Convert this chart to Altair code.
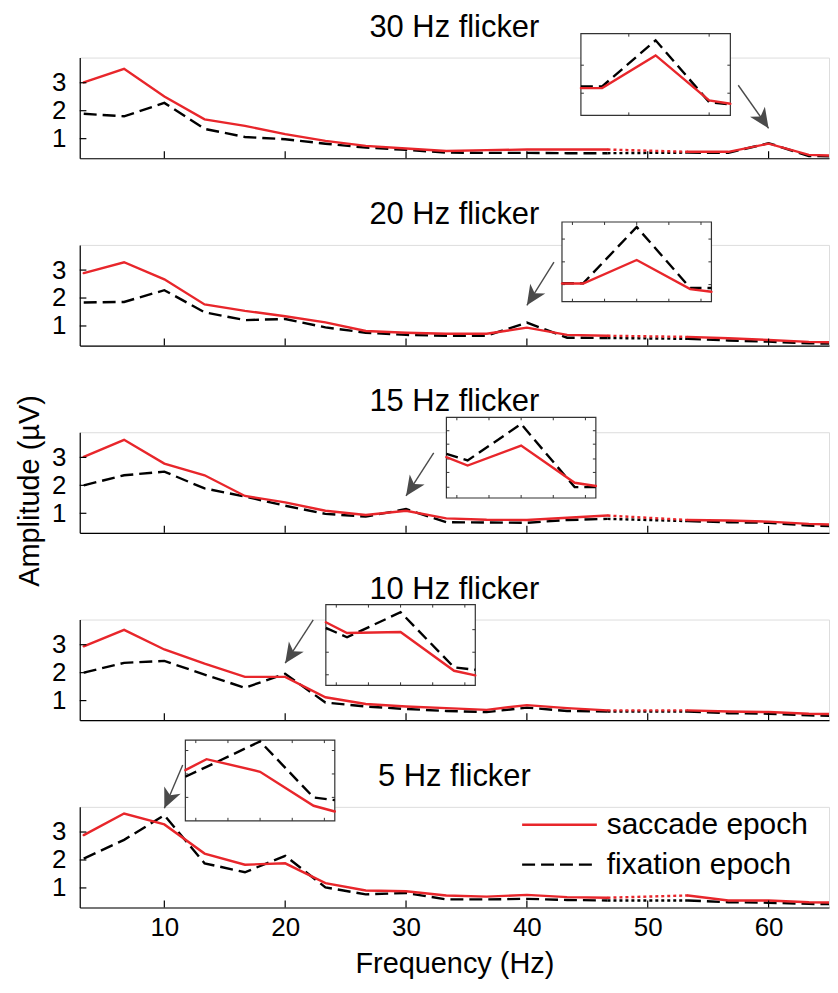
import altair as alt
import pandas as pd

# ---------------- data ----------------
freq = [3.33, 6.67, 10.0, 13.33, 16.67, 20.0, 23.33, 26.67, 30.0, 33.33,
        36.67, 40.0, 43.33, 46.67, 53.33, 56.67, 60.0, 63.33, 66.67]

panel_titles = ["30 Hz flicker", "20 Hz flicker", "15 Hz flicker",
                "10 Hz flicker", "5 Hz flicker"]
legend_labels = ["saccade epoch", "fixation epoch"]

saccade_30 = [3.01, 3.50, 2.51, 1.69, 1.46, 1.16, 0.92, 0.74, 0.65, 0.56,
              0.59, 0.61, 0.61, 0.61, 0.53, 0.53, 0.82, 0.42, 0.37]
fixation_30 = [1.89, 1.80, 2.28, 1.35, 1.06, 0.98, 0.82, 0.68, 0.60, 0.50,
               0.49, 0.49, 0.48, 0.48, 0.50, 0.49, 0.84, 0.38, 0.35]

saccade_20 = [2.89, 3.28, 2.67, 1.77, 1.54, 1.35, 1.13, 0.82, 0.76, 0.72,
              0.72, 0.94, 0.68, 0.65, 0.61, 0.56, 0.50, 0.43, 0.41]
fixation_20 = [1.84, 1.86, 2.28, 1.49, 1.21, 1.25, 0.95, 0.76, 0.68, 0.65,
               0.65, 1.12, 0.58, 0.57, 0.54, 0.48, 0.44, 0.38, 0.36]

saccade_15 = [3.02, 3.63, 2.78, 2.36, 1.62, 1.39, 1.09, 0.94, 1.09, 0.82,
              0.77, 0.76, 0.84, 0.92, 0.76, 0.74, 0.70, 0.62, 0.58]
fixation_15 = [2.00, 2.36, 2.49, 1.89, 1.60, 1.27, 0.98, 0.88, 1.15, 0.68,
               0.67, 0.66, 0.76, 0.80, 0.72, 0.68, 0.66, 0.56, 0.53]

saccade_10 = [2.94, 3.53, 2.83, 2.32, 1.85, 1.85, 1.12, 0.88, 0.79, 0.73,
              0.67, 0.84, 0.73, 0.65, 0.65, 0.61, 0.59, 0.53, 0.51]
fixation_10 = [2.00, 2.35, 2.42, 1.93, 1.46, 1.96, 0.93, 0.79, 0.70, 0.63,
               0.59, 0.75, 0.63, 0.61, 0.61, 0.55, 0.53, 0.47, 0.45]

saccade_5 = [2.89, 3.66, 3.27, 2.23, 1.83, 1.88, 1.17, 0.91, 0.88, 0.73,
             0.69, 0.75, 0.67, 0.65, 0.73, 0.55, 0.55, 0.49, 0.47]
fixation_5 = [2.05, 2.72, 3.60, 1.88, 1.56, 2.15, 1.02, 0.77, 0.82, 0.59,
              0.59, 0.61, 0.57, 0.55, 0.55, 0.49, 0.47, 0.43, 0.41]

# insets (zoomed views around the marked peak)
inset_freq_30 = [55.35, 56.67, 60.0, 63.33, 64.65]
inset_saccade_30 = [0.534, 0.534, 0.814, 0.428, 0.400]
inset_fixation_30 = [0.548, 0.548, 0.943, 0.414, 0.394]

inset_freq_20 = [35.35, 36.67, 40.0, 43.33, 44.65]
inset_saccade_20 = [0.710, 0.710, 0.916, 0.661, 0.637]
inset_fixation_20 = [0.712, 0.712, 1.206, 0.670, 0.670]

inset_freq_15 = [25.35, 26.67, 30.0, 33.33, 34.65]
inset_saccade_15 = [0.904, 0.841, 0.990, 0.713, 0.689]
inset_fixation_15 = [0.928, 0.879, 1.150, 0.681, 0.681]

inset_freq_10 = [15.35, 16.67, 20.0, 23.33, 24.65]
inset_saccade_10 = [2.198, 1.984, 2.004, 1.230, 1.138]
inset_fixation_10 = [2.084, 1.898, 2.398, 1.298, 1.250]

inset_freq_5 = [5.35, 6.67, 10.0, 13.33, 14.65]
inset_saccade_5 = [2.717, 3.055, 2.667, 1.622, 1.446]
inset_fixation_5 = [2.514, 2.818, 3.600, 1.877, 1.794]

inset_xdomain = [[55.35, 64.65], [35.35, 44.65], [25.35, 34.65], [15.35, 24.65], [5.35, 14.65]]
inset_ydomain = [[0.30, 1.00], [0.55, 1.25], [0.60, 1.20], [0.94, 2.55], [1.16, 3.64]]
inset_xticks = [[58.33, 63.33], [36, 38, 40, 42, 44], [26, 28, 30, 32, 34],
                [16, 18, 20, 22, 24], [6, 8, 10, 12, 14]]
inset_yticks = [[0.49, 0.73], [0.7, 0.9, 1.1], [0.68, 0.79, 0.89, 1.0, 1.1],
                [1.15, 1.6, 2.05], [1.88, 2.6, 3.32]]

x_ticks = [10, 20, 30, 40, 50, 60]
y_ticks = [1, 2, 3]

# arrows (tail and tip, in frequency / amplitude units of each panel)
arrow_tail_freq = [57.49, 42.24, 32.29, 22.32, 11.52]
arrow_tail_amp = [2.91, 3.28, 3.16, 3.89, 5.40]
arrow_tip_freq = [60.0, 40.0, 30.0, 20.0, 10.0]
arrow_tip_amp = [1.37, 1.74, 1.62, 2.34, 3.85]

# ---------------- style / layout ----------------
W, H = 752, 101
X_DOMAIN = [3, 65]
Y_DOMAIN = [0.3, 3.9]
RED = "#e8262b"
BLACK = "#000000"
GRAY = "#4a4a4a"
FONT = "Liberation Sans"
DASH = [13, 6]
DOT = [3, 3]
LW = 2.4
# inset placement in plot pixels: x0, x1, y_bottom, y_top
INSET_PX = [(503, 653, 58, -24), (484, 634, 57, -23), (368, 518, 66, -15),
            (247, 397, 66, -15), (106, 256, 14, -67)]
ARROW_ANGLE = [326, 33, 34, 34, 24]
ARROW_PATH = "M0,0L-0.45,-1L0,-0.72L0.45,-1Z"

saccades = [saccade_30, saccade_20, saccade_15, saccade_10, saccade_5]
fixations = [fixation_30, fixation_20, fixation_15, fixation_10, fixation_5]
inset_freqs = [inset_freq_30, inset_freq_20, inset_freq_15, inset_freq_10, inset_freq_5]
inset_sacs = [inset_saccade_30, inset_saccade_20, inset_saccade_15, inset_saccade_10, inset_saccade_5]
inset_fixs = [inset_fixation_30, inset_fixation_20, inset_fixation_15, inset_fixation_10, inset_fixation_5]


def xenc(i, field="freq"):
    last = i == 4
    ax = alt.Axis(values=x_ticks, labels=last, ticks=False, tickSize=0, grid=False,
                  domainColor=BLACK, domainWidth=1.2, labelFont=FONT, labelFontSize=26,
                  labelColor=BLACK, labelPadding=7,
                  title="Frequency (Hz)" if last else "", titleFont=FONT,
                  titleFontSize=29, titleFontWeight="normal", titleColor=BLACK,
                  titlePadding=9)
    return alt.X(f"{field}:Q", scale=alt.Scale(domain=X_DOMAIN, nice=False, zero=False), axis=ax)


def yenc(i, field="value"):
    mid = i == 2
    ax = alt.Axis(values=y_ticks, ticks=False, tickSize=0, grid=False, domainColor=BLACK,
                  domainWidth=1.2, labelFont=FONT, labelFontSize=26, labelColor=BLACK,
                  labelPadding=14, title="Amplitude (µV)" if mid else "",
                  titleFont=FONT, titleFontSize=29, titleFontWeight="normal",
                  titleColor=BLACK, titlePadding=7, titleY=H / 2 + 8)
    return alt.Y(f"{field}:Q", scale=alt.Scale(domain=Y_DOMAIN, nice=False, zero=False), axis=ax)


def ixenc(i, field="f"):
    x0, x1, _, _ = INSET_PX[i]
    return alt.X(f"{field}:Q", axis=None,
                 scale=alt.Scale(domain=inset_xdomain[i], range=[x0, x1], nice=False, zero=False))


def iyenc(i, field="v"):
    _, _, yb, yt = INSET_PX[i]
    return alt.Y(f"{field}:Q", axis=None,
                 scale=alt.Scale(domain=inset_ydomain[i], range=[yb, yt], nice=False, zero=False))


panels = []
for i in range(5):
    df = pd.DataFrame({
        "freq": freq * 2,
        "value": saccades[i] + fixations[i],
        "series": ["saccade"] * len(freq) + ["fixation"] * len(freq),
    })
    base = alt.Chart(df).transform_calculate(seg="datum.freq < 50 ? 'a' : 'b'")

    fix_line = base.transform_filter("datum.series == 'fixation'").mark_line(
        color=BLACK, strokeWidth=LW, strokeDash=DASH, clip=True
    ).encode(x=xenc(i), y=yenc(i), detail="seg:N", order="freq:Q")
    sac_line = base.transform_filter("datum.series == 'saccade'").mark_line(
        color=RED, strokeWidth=LW, clip=True, strokeCap="round"
    ).encode(x=xenc(i), y=yenc(i), detail="seg:N", order="freq:Q")
    gap = base.transform_filter("datum.freq > 46 && datum.freq < 54")
    fix_dot = gap.transform_filter("datum.series == 'fixation'").mark_line(
        color=BLACK, strokeWidth=LW, strokeDash=DOT
    ).encode(x=xenc(i), y=yenc(i))
    sac_dot = gap.transform_filter("datum.series == 'saccade'").mark_line(
        color=RED, strokeWidth=LW, strokeDash=DOT
    ).encode(x=xenc(i), y=yenc(i))

    # inward axis ticks
    xt = pd.DataFrame({"freq": x_ticks, "value": [Y_DOMAIN[0]] * len(x_ticks),
                       "value2": [Y_DOMAIN[0] + 0.25] * len(x_ticks)})
    xtick = alt.Chart(xt).mark_rule(color=BLACK, strokeWidth=1.2).encode(
        x=xenc(i), y=yenc(i), y2="value2:Q")
    yt = pd.DataFrame({"value": y_ticks, "freq": [X_DOMAIN[0]] * len(y_ticks),
                       "freq2": [X_DOMAIN[0] + 0.55] * len(y_ticks)})
    ytick = alt.Chart(yt).mark_rule(color=BLACK, strokeWidth=1.2).encode(
        x=xenc(i), x2="freq2:Q", y=yenc(i))

    # arrow
    adf = pd.DataFrame({"freq": [arrow_tail_freq[i]], "value": [arrow_tail_amp[i]],
                        "freq2": [arrow_tip_freq[i]], "value2": [arrow_tip_amp[i]]})
    arrow_line = alt.Chart(adf).mark_rule(color=GRAY, strokeWidth=1.4).encode(
        x=xenc(i), y=yenc(i), x2="freq2:Q", y2="value2:Q")
    hdf = pd.DataFrame({"freq": [arrow_tip_freq[i]], "value": [arrow_tip_amp[i]]})
    arrow_head = alt.Chart(hdf).mark_point(
        shape=ARROW_PATH, filled=True, size=1600, angle=ARROW_ANGLE[i],
        color=GRAY, opacity=1, strokeWidth=0
    ).encode(x=xenc(i), y=yenc(i))

    title = alt.Chart(pd.DataFrame({"t": [panel_titles[i]]})).mark_text(
        font=FONT, fontSize=31, baseline="alphabetic", align="center", color=BLACK
    ).encode(text="t:N", x=alt.value(W / 2), y=alt.value(-21))

    main_layers = [fix_line, sac_line, fix_dot, sac_dot, xtick, ytick,
                   arrow_line, arrow_head, title]

    if i == 4:
        leg = pd.DataFrame({"label": legend_labels})
        leg_red = alt.Chart(leg.iloc[[0]]).mark_rule(color=RED, strokeWidth=LW).encode(
            x=alt.value(444), x2=alt.value(519), y=alt.value(18))
        leg_blk = alt.Chart(leg.iloc[[1]]).mark_rule(color=BLACK, strokeWidth=LW,
                                                     strokeDash=DASH).encode(
            x=alt.value(444), x2=alt.value(519), y=alt.value(58))
        leg_t1 = alt.Chart(leg.iloc[[0]]).mark_text(
            font=FONT, fontSize=30, align="left", baseline="middle", color=BLACK
        ).encode(text="label:N", x=alt.value(529), y=alt.value(18))
        leg_t2 = alt.Chart(leg.iloc[[1]]).mark_text(
            font=FONT, fontSize=30, align="left", baseline="middle", color=BLACK
        ).encode(text="label:N", x=alt.value(529), y=alt.value(58))
        main_layers += [leg_red, leg_blk, leg_t1, leg_t2]

    main = alt.layer(*main_layers)

    # ---------- inset ----------
    lo, hi = inset_xdomain[i]
    ylo, yhi = inset_ydomain[i]
    x0, x1, yb, ytp = INSET_PX[i]
    dx = 3.0 / (x1 - x0) * (hi - lo)
    dy = 3.0 / (yb - ytp) * (yhi - ylo)
    box = alt.Chart(pd.DataFrame({"f": [lo], "f2": [hi], "v": [ylo], "v2": [yhi]})).mark_rect(
        fill="white", stroke="#333333", strokeWidth=1.2
    ).encode(x=ixenc(i), x2="f2:Q", y=iyenc(i), y2="v2:Q")
    txs = inset_xticks[i]
    itx = pd.DataFrame({"f": txs * 2,
                        "v": [ylo] * len(txs) + [yhi] * len(txs),
                        "v2": [ylo + dy] * len(txs) + [yhi - dy] * len(txs)})
    itick_x = alt.Chart(itx).mark_rule(color="#333333", strokeWidth=1).encode(
        x=ixenc(i), y=iyenc(i), y2="v2:Q")
    tys = inset_yticks[i]
    ity = pd.DataFrame({"v": tys * 2,
                        "f": [lo] * len(tys) + [hi] * len(tys),
                        "f2": [lo + dx] * len(tys) + [hi - dx] * len(tys)})
    itick_y = alt.Chart(ity).mark_rule(color="#333333", strokeWidth=1).encode(
        x=ixenc(i), x2="f2:Q", y=iyenc(i))
    idf_f = pd.DataFrame({"f": inset_freqs[i], "v": inset_fixs[i]})
    idf_s = pd.DataFrame({"f": inset_freqs[i], "v": inset_sacs[i]})
    ifix = alt.Chart(idf_f).mark_line(color=BLACK, strokeWidth=LW, strokeDash=[12, 6]).encode(
        x=ixenc(i), y=iyenc(i), order="f:Q")
    isac = alt.Chart(idf_s).mark_line(color=RED, strokeWidth=LW, strokeCap="round").encode(
        x=ixenc(i), y=iyenc(i), order="f:Q")
    inset = alt.layer(box, itick_x, itick_y, ifix, isac)

    panel = alt.layer(main, inset).resolve_scale(x="independent", y="independent").properties(
        width=W, height=H)
    panels.append(panel)

chart = alt.vconcat(*panels, spacing=87, bounds="flush").properties(
    padding={"left": 7, "top": 1, "right": 0, "bottom": 0}
).configure_view(strokeWidth=0).configure(font=FONT)

chart.save("out.html", embed_options={"renderer": "svg", "actions": False})
